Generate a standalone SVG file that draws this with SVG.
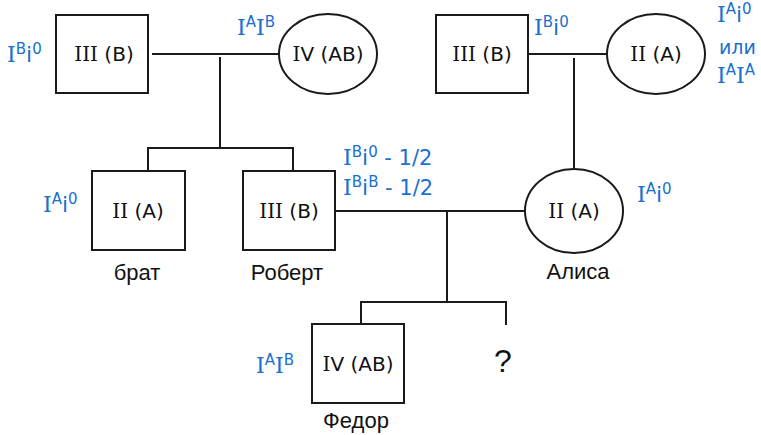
<svg xmlns="http://www.w3.org/2000/svg" width="761" height="435" viewBox="0 0 761 435">
<style>
.box{fill:#fff;stroke:#1a1a1a;stroke-width:2}
.ln{fill:none;stroke:#1a1a1a;stroke-width:2}
.t{font-family:"DejaVu Sans",Verdana,sans-serif;font-size:20px;fill:#111;text-anchor:middle}
.n{font-family:"Liberation Sans",Arial,sans-serif;font-size:22px;fill:#111;text-anchor:middle}
.g{font-family:"DejaVu Sans",Verdana,sans-serif;font-size:22px;fill:#1a6fd0}
.s{font-size:15px}
.i{font-family:"DejaVu Serif",serif}
</style>
<rect width="761" height="435" fill="#fff"/>
<g id="connectors">
<path class="ln" d="M152 54H280M220 57V148M148 171V148H293V171"/>
<path class="ln" d="M528 54H607M574 58V168"/>
<path class="ln" d="M335 211H525M447 211V302M361 325V302H506V325"/>
</g>
<g id="n1"><rect class="box" x="56" y="15" width="92" height="78"/><text class="t" x="104" y="61"><tspan class="i">III</tspan> (B)</text></g>
<g id="n2"><ellipse class="box" cx="328" cy="54" rx="49" ry="40"/><text class="t" x="328" y="61"><tspan class="i">I</tspan>V (AB)</text></g>
<g id="n3"><rect class="box" x="436" y="15" width="92" height="78"/><text class="t" x="482" y="61"><tspan class="i">III</tspan> (B)</text></g>
<g id="n4"><ellipse class="box" cx="656" cy="54" rx="49" ry="40"/><text class="t" x="656" y="61"><tspan class="i">II</tspan> (A)</text></g>
<g id="n5"><rect class="box" x="92" y="171" width="93" height="79"/><text class="t" x="138" y="218"><tspan class="i">II</tspan> (A)</text><text class="n" x="137" y="280">брат</text></g>
<g id="n6"><rect class="box" x="243" y="171" width="92" height="79"/><text class="t" x="289" y="218"><tspan class="i">III</tspan> (B)</text><text class="n" x="287" y="280">Роберт</text></g>
<g id="n7"><ellipse class="box" cx="574" cy="211" rx="49" ry="42"/><text class="t" x="574" y="218"><tspan class="i">II</tspan> (A)</text><text class="n" x="578" y="279">Алиса</text></g>
<g id="n8"><rect class="box" x="312" y="324" width="92" height="79"/><text class="t" x="358" y="371"><tspan class="i">I</tspan>V (AB)</text><text class="n" x="356" y="428">Федор</text></g>
<g id="n9"><text class="n" x="503" y="372" style="font-size:32px">?</text></g>
<g id="labels">
<text class="g" x="7" y="62"><tspan class="i">I</tspan><tspan class="s" dy="-8">B</tspan><tspan dy="8">i</tspan><tspan class="s" dy="-8">0</tspan></text>
<text class="g" x="237" y="35"><tspan class="i">I</tspan><tspan class="s" dy="-8">A</tspan><tspan class="i" dy="8">I</tspan><tspan class="s" dy="-8">B</tspan></text>
<text class="g" x="534" y="35"><tspan class="i">I</tspan><tspan class="s" dy="-8">B</tspan><tspan dy="8">i</tspan><tspan class="s" dy="-8">0</tspan></text>
<text class="g" x="717" y="22"><tspan class="i">I</tspan><tspan class="s" dy="-8">A</tspan><tspan dy="8">i</tspan><tspan class="s" dy="-8">0</tspan></text>
<text class="g" x="719" y="54" style="font-size:19px">или</text>
<text class="g" x="717" y="83"><tspan class="i">I</tspan><tspan class="s" dy="-8">A</tspan><tspan class="i" dy="8">I</tspan><tspan class="s" dy="-8">A</tspan></text>
<text class="g" x="343" y="165"><tspan class="i">I</tspan><tspan class="s" dy="-8">B</tspan><tspan dy="8">i</tspan><tspan class="s" dy="-8">0</tspan><tspan dy="8" style="font-size:21px"> - 1/2</tspan></text>
<text class="g" x="343" y="195"><tspan class="i">I</tspan><tspan class="s" dy="-8">B</tspan><tspan dy="8">i</tspan><tspan class="s" dy="-8">B</tspan><tspan dy="8" style="font-size:21px"> - 1/2</tspan></text>
<text class="g" x="43" y="212"><tspan class="i">I</tspan><tspan class="s" dy="-8">A</tspan><tspan dy="8">i</tspan><tspan class="s" dy="-8">0</tspan></text>
<text class="g" x="637" y="202"><tspan class="i">I</tspan><tspan class="s" dy="-8">A</tspan><tspan dy="8">i</tspan><tspan class="s" dy="-8">0</tspan></text>
<text class="g" x="256" y="373"><tspan class="i">I</tspan><tspan class="s" dy="-8">A</tspan><tspan class="i" dy="8">I</tspan><tspan class="s" dy="-8">B</tspan></text>
</g>
</svg>
